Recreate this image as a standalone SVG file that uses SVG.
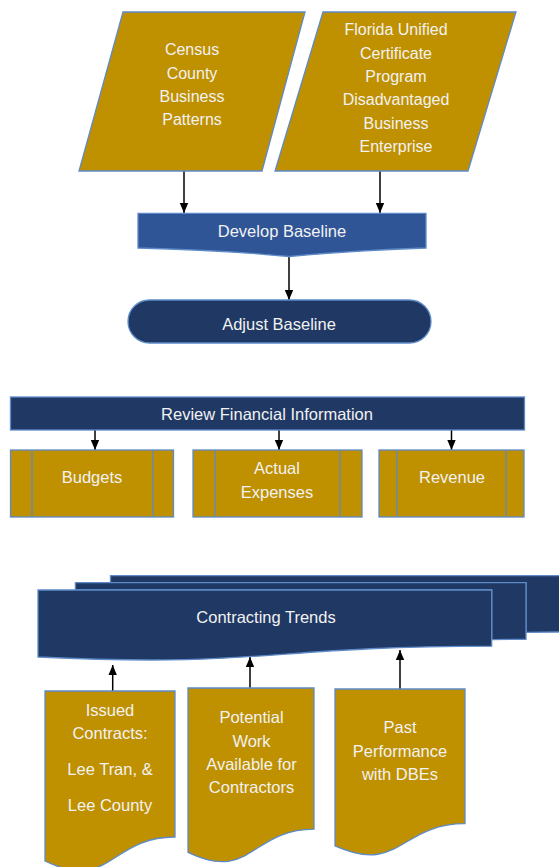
<svg xmlns="http://www.w3.org/2000/svg" width="559" height="867" viewBox="0 0 559 867">
<defs>
<style>
.gold{fill:#BF9000;stroke:#5E8BC7;stroke-width:1.3}
.navy{fill:#1F3864;stroke:#5E8BC7;stroke-width:1.3}
.blue{fill:#2F5597;stroke:#5E8BC7;stroke-width:1.3}
.t{font-family:"Liberation Sans",Arial,sans-serif;font-size:16.5px;fill:#F2F2F2;text-anchor:middle}
.t16{font-size:16px}
.c{stroke:#000;stroke-width:1.5;fill:none;marker-end:url(#ah)}
</style>
<marker id="ah" markerUnits="userSpaceOnUse" markerWidth="10" markerHeight="10" viewBox="0 0 10 10" refX="10" refY="5" orient="auto">
<path d="M0,0.8 L10,5 L0,9.2 Z" fill="#000"/>
</marker>
</defs>
<rect width="559" height="867" fill="#fff"/>

<g id="connectors">
<line class="c" x1="184" y1="171" x2="184" y2="213"/>
<line class="c" x1="380" y1="171" x2="380" y2="213"/>
<line class="c" x1="289" y1="257" x2="289" y2="300"/>
<line class="c" x1="95" y1="430" x2="95" y2="450"/>
<line class="c" x1="279" y1="430" x2="279" y2="450"/>
<line class="c" x1="451.5" y1="430" x2="451.5" y2="450"/>
<line class="c" x1="112.7" y1="691" x2="112.7" y2="665"/>
<line class="c" x1="250" y1="688" x2="250" y2="657"/>
<line class="c" x1="400" y1="689" x2="400" y2="650"/>
</g>

<g id="census">
<polygon class="gold" points="123,12 305,12 262,171 79,171"/>
<text class="t t16" x="192" y="55">Census</text>
<text class="t t16" x="192" y="78.5">County</text>
<text class="t t16" x="192" y="102">Business</text>
<text class="t t16" x="192" y="125">Patterns</text>
</g>

<g id="florida">
<polygon class="gold" points="323,12 516,12 468,171 275,171"/>
<text class="t t16" x="396" y="35">Florida Unified</text>
<text class="t t16" x="396" y="58.5">Certificate</text>
<text class="t t16" x="396" y="82">Program</text>
<text class="t t16" x="396" y="105">Disadvantaged</text>
<text class="t t16" x="396" y="128.5">Business</text>
<text class="t t16" x="396" y="152">Enterprise</text>
</g>

<g id="develop">
<path class="blue" d="M138,213.3 H426 V248 Q360,250 289,256.5 Q220,250 138,248 Z"/>
<text class="t" x="282" y="237">Develop Baseline</text>
</g>

<g id="adjust">
<rect class="navy" x="128" y="300" width="303" height="43" rx="21.5" ry="21.5"/>
<text class="t" x="279" y="330">Adjust Baseline</text>
</g>

<g id="review">
<rect class="navy" x="10.5" y="397" width="514" height="33"/>
<text class="t" x="267" y="420">Review Financial Information</text>
</g>

<g id="budgets">
<rect class="gold" x="10.5" y="450" width="163" height="67"/>
<line class="gold" x1="32" y1="450" x2="32" y2="517"/>
<line class="gold" x1="153" y1="450" x2="153" y2="517"/>
<text class="t" x="92" y="483">Budgets</text>
</g>

<g id="actual">
<rect class="gold" x="193" y="450" width="169" height="67"/>
<line class="gold" x1="215" y1="450" x2="215" y2="517"/>
<line class="gold" x1="340" y1="450" x2="340" y2="517"/>
<text class="t" x="277" y="474">Actual</text>
<text class="t" x="277" y="497.5">Expenses</text>
</g>

<g id="revenue">
<rect class="gold" x="379" y="450" width="145" height="67"/>
<line class="gold" x1="397" y1="450" x2="397" y2="517"/>
<line class="gold" x1="506" y1="450" x2="506" y2="517"/>
<text class="t" x="452" y="483">Revenue</text>
</g>

<g id="contracting">
<path class="navy" d="M110.5,582.7 V575.6 H565 V632 C545.5,632 526,632.3 526,632.3 V582.7 Z"/>
<path class="navy" d="M75.4,590 V582.7 H526 V639.3 C508.8,639.3 491.7,639.6 491.7,639.6 V590 Z"/>
<path class="navy" d="M38,657 C264.9,667.8 264.9,646.2 491.7,646.2 V590 H38 Z"/>
<text class="t" x="266" y="623">Contracting Trends</text>
</g>

<g id="issued">
<path class="gold" d="M45,691 H175 V837 C110,837 110,892.5 45,861 Z"/>
<text class="t" x="110" y="716">Issued</text>
<text class="t" x="110" y="738.5">Contracts:</text>
<text class="t" x="110" y="775">Lee Tran, &amp;</text>
<text class="t" x="110" y="811">Lee County</text>
</g>

<g id="potential">
<path class="gold" d="M188,688 H314 V829.2 C251,829.2 251,882.8 188,852.4 Z"/>
<text class="t" x="251.5" y="723">Potential</text>
<text class="t" x="251.5" y="746.5">Work</text>
<text class="t" x="251.5" y="770">Available for</text>
<text class="t" x="251.5" y="792.5">Contractors</text>
</g>

<g id="past">
<path class="gold" d="M335,689 H465 V823.7 C400,823.7 400,875 335,845.9 Z"/>
<text class="t" x="400" y="733">Past</text>
<text class="t" x="400" y="756.5">Performance</text>
<text class="t" x="400" y="780">with DBEs</text>
</g>
</svg>
